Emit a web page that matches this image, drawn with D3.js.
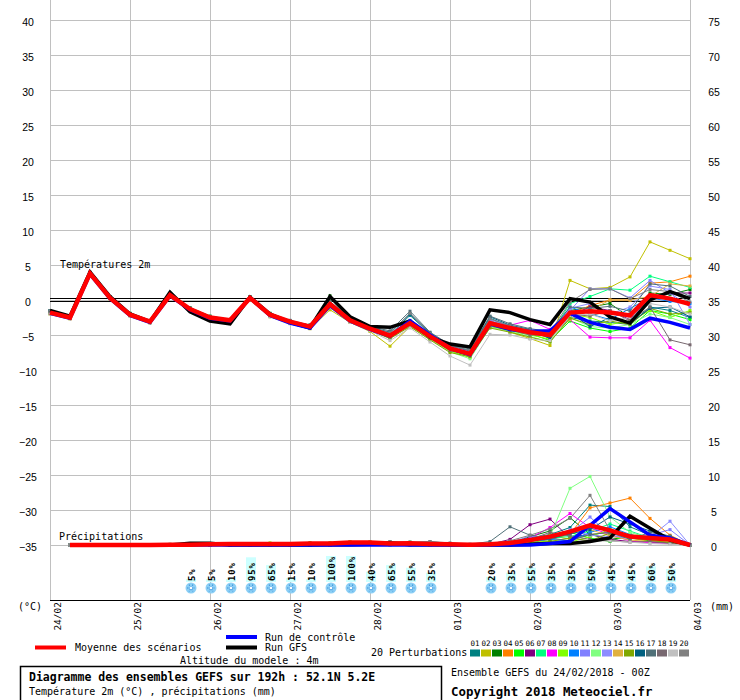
<!DOCTYPE html>
<html>
<head>
<meta charset="utf-8">
<script src="https://cdn.jsdelivr.net/npm/d3@7"></script>
<style>
  body { margin: 0; background: #fff; }
  svg { display: block; }
  text { font-family: "DejaVu Sans Mono", monospace; fill: #000; }
</style>
</head>
<body>
<div id="chart"></div>
<script>
// time steps (hours from 24/02 00Z), 6-hourly
const hours = d3.range(0, 193, 6);
const dayTicks = d3.range(0, 193, 24);
const dayLabels = ["24/02", "25/02", "26/02", "27/02", "28/02", "01/03", "02/03", "03/03", "04/03"];
const tempTicks = d3.range(-35, 41, 5);
const precipTicks = d3.range(0, 76, 5);

const pertNames = ["01","02","03","04","05","06","07","08","09","10","11","12","13","14","15","16","17","18","19","20"];
const pertColors = ["#008080","#c0c000","#008000","#ff8000","#00ff00","#800080","#00ff80","#ff00ff","#80ff00","#0080ff",
                    "#8080ff","#80ff80","#8c8cff","#e0b040","#80a800","#006080","#507078","#786870","#c0c0c0","#808080"];

// temperature 2m (°C)
const tempMean = [-1.8,-2.5,3.8,0.3,-2.1,-3.1,0.7,-1.3,-2.5,-2.9,0.3,-2.1,-3.1,-3.8,-0.6,-2.9,-4.1,
                  -5.1,-3.3,-5.2,-6.9,-7.7,-3.3,-4.0,-4.6,-5.0,-1.8,-1.6,-1.8,-2.2,0.7,0.2,-0.6];
const tempGfs = [-1.5,-2.3,4.0,0.5,-2.0,-3.1,1.1,-1.7,-3.0,-3.4,0.4,-2.0,-3.2,-4.0,0.5,-2.4,-3.8,
                 -3.9,-3.0,-5.3,-6.3,-6.7,-1.4,-1.8,-2.8,-3.5,0.2,-0.3,-2.4,-3.3,0.0,1.2,0.2];
const tempCtrl = [-1.9,-2.6,3.7,0.2,-2.2,-3.2,0.6,-1.4,-2.6,-3.0,0.3,-2.2,-3.3,-4.0,-0.8,-3.0,-4.2,
                  -5.2,-3.0,-5.0,-6.9,-7.8,-3.4,-4.2,-4.5,-4.4,-1.9,-3.2,-3.9,-4.2,-2.6,-3.2,-4.0];
const tempPerts = [
  [-1.5,-2.4,3.9,0.4,-2.0,-3.0,0.8,-1.2,-2.4,-2.8,0.4,-2.0,-3.0,-3.6,-0.4,-2.7,-3.9,-4.9,-2.2,-4.8,-6.6,-7.3,-2.6,-3.8,-4.4,-5.5,-2.5,-3.0,-3.2,-3.5,-1.0,-1.5,-2.5],
  [-2.0,-2.7,3.6,0.1,-2.3,-3.3,0.5,-1.5,-2.7,-3.1,0.0,-2.4,-3.3,-4.1,-1.4,-3.2,-4.5,-6.6,-3.8,-5.6,-7.0,-7.9,-3.5,-4.6,-5.5,-6.5,2.8,1.6,1.8,3.3,8.3,7.1,5.9],
  [-1.7,-2.4,3.8,0.3,-2.0,-3.1,0.8,-1.2,-2.4,-2.9,0.4,-2.0,-3.1,-3.7,0.6,-2.6,-4.0,-5.0,-3.0,-5.0,-6.7,-7.5,-3.0,-3.9,-4.3,-5.2,-1.5,-1.0,-0.5,-2.5,1.0,0.8,1.5],
  [-1.9,-2.5,3.7,0.2,-2.1,-3.2,0.6,-1.3,-2.6,-3.0,0.2,-2.1,-3.2,-3.9,-0.8,-3.0,-4.2,-5.3,-3.5,-5.3,-7.1,-7.8,-3.4,-4.1,-4.9,-4.6,-2.0,-0.8,0.0,0.0,2.4,2.6,3.4],
  [-1.6,-2.3,3.9,0.5,-1.9,-3.0,0.9,-1.1,-2.3,-2.8,0.5,-1.9,-3.0,-3.6,0.3,-2.6,-3.9,-5.0,-3.2,-5.4,-7.2,-8.0,-3.6,-4.2,-4.8,-5.8,-3.0,-4.0,-4.5,-4.0,-1.5,-2.0,-2.8],
  [-1.8,-2.6,3.8,0.3,-2.2,-3.1,0.7,-1.3,-2.5,-3.0,0.3,-2.2,-3.2,-3.9,-0.5,-2.9,-4.1,-5.2,-3.1,-4.9,-6.8,-7.6,-3.1,-3.7,-4.4,-4.5,-2.2,-1.0,-1.5,-2.8,0.5,1.0,1.0],
  [-1.7,-2.4,3.9,0.4,-2.0,-3.0,0.8,-1.2,-2.4,-2.9,0.3,-2.1,-3.0,-3.7,-0.3,-2.8,-4.0,-5.0,-3.4,-5.1,-6.9,-7.6,-3.2,-3.9,-4.5,-5.0,-0.5,0.5,1.6,1.4,3.4,2.6,1.8],
  [-1.8,-2.5,3.8,0.3,-2.1,-3.1,0.7,-1.3,-2.5,-2.9,0.3,-2.1,-3.1,-3.8,-0.7,-2.9,-4.1,-5.1,-3.4,-5.3,-6.8,-7.4,-3.5,-3.6,-2.9,-4.2,-2.8,-5.3,-5.4,-5.4,-2.9,-6.8,-8.3],
  [-1.9,-2.6,3.7,0.2,-2.2,-3.2,0.6,-1.4,-2.6,-3.1,0.2,-2.2,-3.3,-4.0,-0.9,-3.1,-4.3,-5.4,-3.6,-5.5,-7.3,-8.2,-3.8,-4.4,-5.0,-5.6,-2.0,-2.5,-3.5,-3.0,-1.5,-2.5,-1.5],
  [-1.8,-2.5,3.8,0.3,-2.1,-3.1,0.7,-1.3,-2.5,-2.9,0.3,-2.1,-3.1,-3.8,-0.6,-2.9,-4.1,-5.1,-3.2,-5.2,-6.9,-7.7,-3.2,-3.9,-4.4,-4.9,-1.0,-2.0,-2.8,-1.2,0.3,-0.2,-0.5],
  [-1.6,-2.4,3.9,0.4,-2.0,-3.0,0.8,-1.2,-2.4,-2.8,0.4,-2.0,-3.0,-3.7,-0.4,-2.8,-4.0,-4.8,-2.9,-4.9,-6.6,-7.4,-2.8,-3.7,-4.3,-4.6,-1.5,1.6,1.6,0.3,2.8,1.0,-1.0],
  [-1.9,-2.6,3.7,0.2,-2.2,-3.2,0.6,-1.4,-2.6,-3.0,0.2,-2.2,-3.2,-3.9,-0.7,-3.0,-4.3,-5.5,-3.7,-5.6,-7.4,-8.4,-3.9,-4.5,-5.2,-6.0,-2.5,-3.8,-4.0,-3.5,-2.0,-2.5,-3.5],
  [-1.7,-2.5,3.8,0.3,-2.1,-3.1,0.7,-1.3,-2.5,-2.9,0.3,-2.1,-3.1,-3.8,-0.5,-2.9,-4.1,-5.0,-3.1,-5.1,-6.8,-7.5,-3.0,-3.8,-4.6,-4.8,-1.2,-0.5,-2.0,-1.0,2.0,1.5,-3.5],
  [-1.8,-2.5,3.7,0.2,-2.2,-3.2,0.6,-1.4,-2.6,-3.0,0.2,-2.2,-3.3,-3.9,-0.9,-3.0,-4.2,-5.3,-3.5,-5.4,-7.0,-7.8,-3.5,-4.2,-4.8,-5.3,-2.8,-1.5,0.0,0.0,0.5,2.3,2.0],
  [-1.9,-2.6,3.7,0.2,-2.2,-3.2,0.6,-1.4,-2.6,-3.0,0.1,-2.3,-3.3,-4.0,-1.0,-3.1,-4.3,-5.5,-3.8,-5.7,-7.5,-8.1,-4.0,-4.6,-5.3,-6.0,-2.6,-3.5,-3.0,-3.5,-1.2,-2.0,-1.8],
  [-1.6,-2.4,3.9,0.4,-2.0,-3.0,0.8,-1.2,-2.4,-2.8,0.4,-2.0,-3.0,-3.6,-0.3,-2.7,-3.9,-4.6,-2.0,-4.7,-6.5,-7.2,-2.4,-3.6,-4.2,-5.5,-1.8,-3.8,-2.5,-3.3,-1.2,-1.0,-2.4],
  [-1.5,-2.3,4.0,0.5,-1.9,-2.9,0.9,-1.1,-2.3,-2.8,0.5,-1.9,-2.9,-3.6,-0.2,-2.6,-3.8,-4.4,-1.6,-4.6,-6.4,-7.0,-2.3,-3.4,-4.1,-4.5,-1.0,-1.2,-0.9,-1.6,2.3,2.0,0.5],
  [-1.8,-2.6,3.8,0.3,-2.2,-3.1,0.7,-1.3,-2.5,-3.0,0.3,-2.2,-3.2,-3.9,-0.6,-3.0,-4.2,-5.3,-3.6,-5.4,-7.2,-7.9,-3.7,-4.3,-5.0,-5.0,-2.0,-2.3,-1.5,-3.0,-1.0,-5.7,-6.4],
  [-2.0,-2.7,3.6,0.1,-2.3,-3.3,0.5,-1.5,-2.7,-3.1,0.0,-2.4,-3.4,-4.1,-1.1,-3.2,-4.4,-5.8,-4.0,-6.0,-8.0,-9.3,-4.9,-5.0,-5.6,-5.8,-2.2,-2.0,-3.0,-2.5,-0.5,-1.0,-2.0],
  [-1.6,-2.4,3.9,0.4,-2.0,-3.0,0.8,-1.2,-2.4,-2.9,0.4,-2.0,-3.0,-3.7,-0.3,-2.7,-3.9,-4.7,-1.9,-4.8,-6.5,-7.2,-2.7,-3.7,-4.3,-4.6,-0.3,1.5,1.6,0.2,1.5,1.2,-0.3]
];

// precipitation (mm per 6h), steps 6h .. 192h
const precipHours = hours.slice(1);
const precipMean = [0,0,0,0,0,0.05,0.05,0.1,0.15,0.15,0.15,0.15,0.2,0.2,0.35,0.35,0.2,0.25,0.15,0.1,0.05,
                    0.1,0.3,0.7,1.2,1.9,2.8,2.1,1.2,1.0,0.8,0];
const precipGfs = [0,0,0,0,0,0,0.25,0.25,0,0,0,0,0,0.05,0.05,0.1,0.3,0.05,0.05,0,0,
                   0,0,0.1,0.2,0.2,0.5,1.0,4.1,2.4,0.7,0];
const precipCtrl = [0,0,0,0,0,0,0,0,0,0,0,0,0,0,0,0,0,0,0,0,0,
                    0,0,0,0.2,0.5,2.8,5.2,3.3,1.4,1.0,0];
const precipPerts = [
  [0,0,0,0,0,0,0.1,0.1,0,0,0,0,0.1,0.2,0.3,0.2,0.1,0.2,0.1,0,0, 0.2,0.5,1.0,1.5,2.5,5.7,5.5,2.6,1.4,1.0,0],
  [0,0,0,0,0,0,0,0,0.1,0.1,0,0,0,0,0.3,0.3,0.1,0.1,0,0,0, 0,0.3,0.8,1.4,0.8,1.5,1.8,1.0,0.5,0.6,0],
  [0,0,0,0,0,0.1,0.1,0.2,0.2,0.1,0.1,0,0,0.1,0.4,0.3,0.2,0.3,0.1,0,0, 0,0.2,1.2,2.0,3.9,1.5,0.8,1.2,0.6,0.3,0],
  [0,0,0,0,0,0,0,0,0,0,0,0,0,0,0.1,0.2,0,0,0,0,0, 0,0,0.3,0.8,1.5,5.3,6.0,6.7,3.8,1.4,0],
  [0,0,0,0,0,0,0,0.1,0.2,0.2,0.2,0.2,0.3,0.2,0.4,0.4,0.2,0.2,0.2,0.1,0, 0,0.1,0.4,0.9,1.8,1.0,0.5,1.5,0.8,0.5,0],
  [0,0,0,0,0,0,0.1,0.1,0,0,0,0,0,0,0.2,0.2,0.1,0.1,0,0,0, 0.1,0.8,2.9,3.7,1.0,1.6,0.8,0.5,0.4,0.3,0],
  [0,0,0,0,0,0,0,0,0.1,0.1,0.2,0.2,0.2,0.2,0.3,0.2,0.2,0.2,0.1,0,0, 0,0.2,0.5,1.0,1.2,2.0,3.0,2.0,1.0,0.8,0],
  [0,0,0,0,0,0,0,0,0,0,0,0,0,0,0.2,0.3,0.2,0.1,0,0,0, 0,0.3,1.0,2.5,4.5,2.5,1.5,0.6,0.3,0.2,0],
  [0,0,0,0,0,0,0,0.1,0.2,0.2,0.3,0.2,0.2,0.3,0.4,0.4,0.3,0.4,0.2,0.1,0, 0,0.1,0.3,0.6,0.4,1.2,2.2,1.2,1.0,0.5,0],
  [0,0,0,0,0,0,0,0,0,0.1,0.1,0.1,0.1,0.2,0.3,0.3,0.2,0.2,0.1,0,0, 0,0.2,0.5,0.8,0.6,1.8,2.6,1.5,0.8,1.2,0],
  [0,0,0,0,0,0,0,0,0,0,0,0,0.1,0.1,0.3,0.4,0.2,0.3,0.2,0.1,0, 0,0.3,1.3,1.0,1.7,4.0,1.4,1.0,1.4,2.2,0],
  [0,0,0,0,0,0,0,0,0,0,0,0,0,0,0.1,0.1,0,0,0,0,0, 0,0.1,0.3,1.2,8.1,9.8,4.0,1.8,1.0,0.5,0],
  [0,0,0,0,0,0,0,0.1,0.1,0.1,0,0,0.1,0.2,0.3,0.3,0.2,0.2,0.2,0.1,0, 0,0.2,0.6,1.0,2.2,1.4,1.2,1.0,1.1,3.4,0],
  [0,0,0,0,0,0,0,0,0.1,0.1,0.1,0.2,0.2,0.2,0.4,0.4,0.2,0.2,0.1,0,0, 0,0.1,0.4,1.2,1.8,2.2,1.3,0.7,0.5,0.6,0],
  [0,0,0,0,0,0,0.1,0.1,0.2,0.2,0.2,0.2,0.3,0.3,0.4,0.4,0.3,0.2,0.1,0.1,0, 0,0.1,0.2,0.5,1.0,0.6,1.7,1.0,0.7,0.3,0],
  [0,0,0,0,0,0,0,0,0,0,0,0,0.1,0.1,0.3,0.3,0.2,0.4,0.2,0.1,0, 0.1,0.3,0.6,0.9,1.6,2.2,4.0,3.0,2.0,1.2,0],
  [0,0,0,0,0,0,0,0,0,0,0,0,0,0.1,0.2,0.2,0.5,0.3,0.5,0.2,0.1, 0.5,2.6,1.4,1.0,0.6,1.5,1.8,0.8,1.8,1.3,0],
  [0,0,0,0,0,0,0,0,0.1,0.1,0.1,0,0,0.1,0.3,0.3,0.2,0.3,0.2,0,0, 0,0.2,0.8,1.8,1.3,0.8,0.6,0.4,0.5,0.2,0],
  [0,0,0,0,0,0,0,0,0,0,0,0,0,0,0.1,0.1,0,0,0,0,0, 0,0,0.1,0.2,0.3,0.5,0.6,0.4,0.2,0.1,0],
  [0,0,0,0,0,0,0,0,0,0,0,0.1,0.1,0.2,0.3,0.3,0.5,0.4,0.5,0.3,0.1, 0.2,0.6,1.4,2.3,3.8,7.1,2.1,1.2,1.0,0.8,0]
];

// snow probability (%)
const snowHours = [42,48,54,60,66,72,78,84,90,96,102,108,114,132,138,144,150,156,162,168,174,180,186];
const snowPct = [5,5,10,95,65,15,10,100,100,40,65,55,35,20,35,55,35,35,50,45,45,60,50];

const W = 740, H = 700;
const svg = d3.select('#chart').append('svg').attr('width', W).attr('height', H);

const x = d3.scaleLinear().domain([0, 192]).range([50, 690]);
const yT = d3.scaleLinear().domain([-35, 40]).range([545, 20]);
const yP = d3.scaleLinear().domain([0, 75]).range([545, 20]);
const yBar = d3.scaleLinear().domain([0, 100]).range([0, 26]);

// grid
svg.append('g')
  .selectAll('line')
  .data(tempTicks)
  .join('line')
  .attr('x1', x(0)).attr('x2', x(192))
  .attr('y1', d => yT(d) + 0.5).attr('y2', d => yT(d) + 0.5)
  .attr('stroke', '#c0c0c0');
svg.append('g')
  .selectAll('line')
  .data(dayTicks)
  .join('line')
  .attr('x1', d => x(d) + 0.5).attr('x2', d => x(d) + 0.5)
  .attr('y1', 0).attr('y2', 600)
  .attr('stroke', '#c0c0c0');

// left / right axes (labels only)
const axL = svg.append('g').attr('transform', `translate(${x(0)},0)`)
  .call(d3.axisLeft(yT).tickValues(tempTicks).tickSize(0).tickPadding(22));
const axR = svg.append('g').attr('transform', `translate(${x(192)},0)`)
  .call(d3.axisRight(yP).tickValues(precipTicks).tickSize(0).tickPadding(24));
[axL, axR].forEach(a => {
  a.select('.domain').remove();
  a.selectAll('text')
    .attr('text-anchor', 'middle')
    .attr('dy', '0.55em')
    .style('font-family', '"Liberation Sans", Arial, sans-serif')
    .style('font-size', '10.5px')
    .attr('fill', '#000');
});

// bottom axis line and date labels
svg.append('line')
  .attr('x1', x(0)).attr('x2', x(192)).attr('y1', 600.5).attr('y2', 600.5)
  .attr('stroke', '#000');
const axB = svg.append('g').attr('transform', 'translate(0,600)')
  .call(d3.axisBottom(x).tickValues(dayTicks).tickFormat((d, i) => dayLabels[i]).tickSize(0));
axB.select('.domain').remove();
axB.selectAll('text')
  .attr('transform', 'rotate(-90)')
  .attr('text-anchor', 'end')
  .attr('x', -2).attr('y', 10).attr('dy', 0)
  .style('font-family', '"DejaVu Sans Mono", monospace')
  .style('font-size', '9.5px')
  .attr('fill', '#000');

svg.append('text').attr('x', 18).attr('y', 610).style('font-size', '10px').text('(°C)');
svg.append('text').attr('x', 710).attr('y', 610).style('font-size', '10px').text('(mm)');

// 0°C reference (double black line)
[-1.5, 1.5].forEach(o => {
  svg.append('line')
    .attr('x1', x(0)).attr('x2', x(192))
    .attr('y1', Math.round(yT(0)) + o).attr('y2', Math.round(yT(0)) + o)
    .attr('stroke', '#000')
    .attr('shape-rendering', 'crispEdges');
});

svg.append('text').attr('x', 60).attr('y', 268).style('font-size', '10px').text('Températures 2m');
svg.append('text').attr('x', 59).attr('y', 540).style('font-size', '10px').text('Précipitations');

const lineT = d3.line().x((d, i) => x(hours[i])).y(d => yT(d));
const lineP = d3.line().x((d, i) => x(precipHours[i])).y(d => yP(d));

// perturbations
function drawMembers(series, hrs, yS, line) {
  series.forEach((vals, k) => {
    const g = svg.append('g');
    g.append('path').datum(vals)
      .attr('d', line)
      .attr('fill', 'none')
      .attr('stroke', pertColors[k])
      .attr('stroke-width', 1);
    g.selectAll('rect')
      .data(vals)
      .join('rect')
      .attr('x', (d, i) => x(hrs[i]) - 1.5)
      .attr('y', d => yS(d) - 1.5)
      .attr('width', 3).attr('height', 3)
      .attr('fill', pertColors[k]);
  });
}
drawMembers(tempPerts, hours, yT, lineT);
drawMembers(precipPerts, precipHours, yP, lineP);

function drawMain(vals, line, color, w) {
  svg.append('path').datum(vals)
    .attr('d', line)
    .attr('fill', 'none')
    .attr('stroke', color)
    .attr('stroke-width', w);
}
drawMain(tempGfs, lineT, '#000', 3.5);
drawMain(tempCtrl, lineT, '#0000ff', 3.5);
drawMain(precipGfs, lineP, '#000', 3.5);
drawMain(precipCtrl, lineP, '#0000ff', 3.5);
drawMain(tempMean, lineT, '#ff0000', 4.5);
drawMain(precipMean, lineP, '#ff0000', 4.5);

// snow probability columns
const snow = svg.append('g').selectAll('g')
  .data(snowHours.map((h, i) => ({ h, p: snowPct[i] })))
  .join('g')
  .attr('transform', d => `translate(${x(d.h) + 1},0)`);
snow.append('rect')
  .attr('x', -5).attr('width', 10)
  .attr('y', d => 582 - Math.max(3, yBar(d.p)))
  .attr('height', d => Math.max(3, yBar(d.p)))
  .attr('fill', '#ccffff');
snow.append('text')
  .attr('transform', 'translate(3.5,581) rotate(-90)')
  .style('font-size', '9px')
  .style('font-weight', 'bold')
  .style('letter-spacing', '0.8px')
  .attr('fill', '#0000ff')
  .text(d => d.p + '%');
snow.append('circle')
  .attr('cx', 0).attr('cy', 588).attr('r', 5.5)
  .attr('fill', '#8ccff5');
[0, 60, 120].forEach(a => {
  snow.append('line')
    .attr('x1', -4).attr('x2', 4).attr('y1', 0).attr('y2', 0)
    .attr('transform', `translate(0,588) rotate(${a})`)
    .attr('stroke', '#3b8fdc').attr('stroke-width', 1)
    .attr('stroke-dasharray', '1.5,1');
});
snow.append('circle')
  .attr('cx', 0).attr('cy', 588).attr('r', 1.2)
  .attr('fill', '#fff');

// legend
const lg = svg.append('g');
lg.append('line').attr('x1', 35).attr('x2', 66).attr('y1', 647.5).attr('y2', 647.5)
  .attr('stroke', '#ff0000').attr('stroke-width', 4);
lg.append('text').attr('x', 75).attr('y', 651).style('font-size', '10px').text('Moyenne des scénarios');
lg.append('line').attr('x1', 226).attr('x2', 257).attr('y1', 637).attr('y2', 637)
  .attr('stroke', '#0000ff').attr('stroke-width', 4);
lg.append('text').attr('x', 265).attr('y', 641).style('font-size', '10px').text('Run de contrôle');
lg.append('line').attr('x1', 226).attr('x2', 257).attr('y1', 647.5).attr('y2', 647.5)
  .attr('stroke', '#000').attr('stroke-width', 4);
lg.append('text').attr('x', 265).attr('y', 651).style('font-size', '10px').text('Run GFS');
lg.append('text').attr('x', 180).attr('y', 664).style('font-size', '10px').text('Altitude du modele : 4m');
lg.append('text').attr('x', 371).attr('y', 656).style('font-size', '10px').text('20 Perturbations');

const pk = lg.selectAll('g.pk')
  .data(pertNames)
  .join('g')
  .attr('transform', (d, i) => `translate(${470 + i * 11},0)`);
pk.append('text')
  .attr('x', 5).attr('y', 646)
  .attr('text-anchor', 'middle')
  .style('font-size', '7.5px')
  .text(d => d);
pk.append('rect')
  .attr('x', 0).attr('y', 649.5).attr('width', 10).attr('height', 7)
  .attr('fill', (d, i) => pertColors[i]);

// title box
svg.append('rect').attr('x', 20.5).attr('y', 666.5).attr('width', 421).attr('height', 40)
  .attr('fill', 'none').attr('stroke', '#000').attr('stroke-width', 1.5);
svg.append('text').attr('x', 29).attr('y', 681)
  .style('font-size', '11.5px').style('font-weight', 'bold')
  .text('Diagramme des ensembles GEFS sur 192h : 52.1N 5.2E');
svg.append('text').attr('x', 29).attr('y', 695)
  .style('font-size', '10px')
  .text('Température 2m (°C) , précipitations (mm)');
svg.append('text').attr('x', 451).attr('y', 676)
  .style('font-size', '10px')
  .text('Ensemble GEFS du 24/02/2018 - 00Z');
svg.append('text').attr('x', 451).attr('y', 696)
  .style('font-size', '12.4px').style('font-weight', 'bold')
  .text('Copyright 2018 Meteociel.fr');
</script>
</body>
</html>
